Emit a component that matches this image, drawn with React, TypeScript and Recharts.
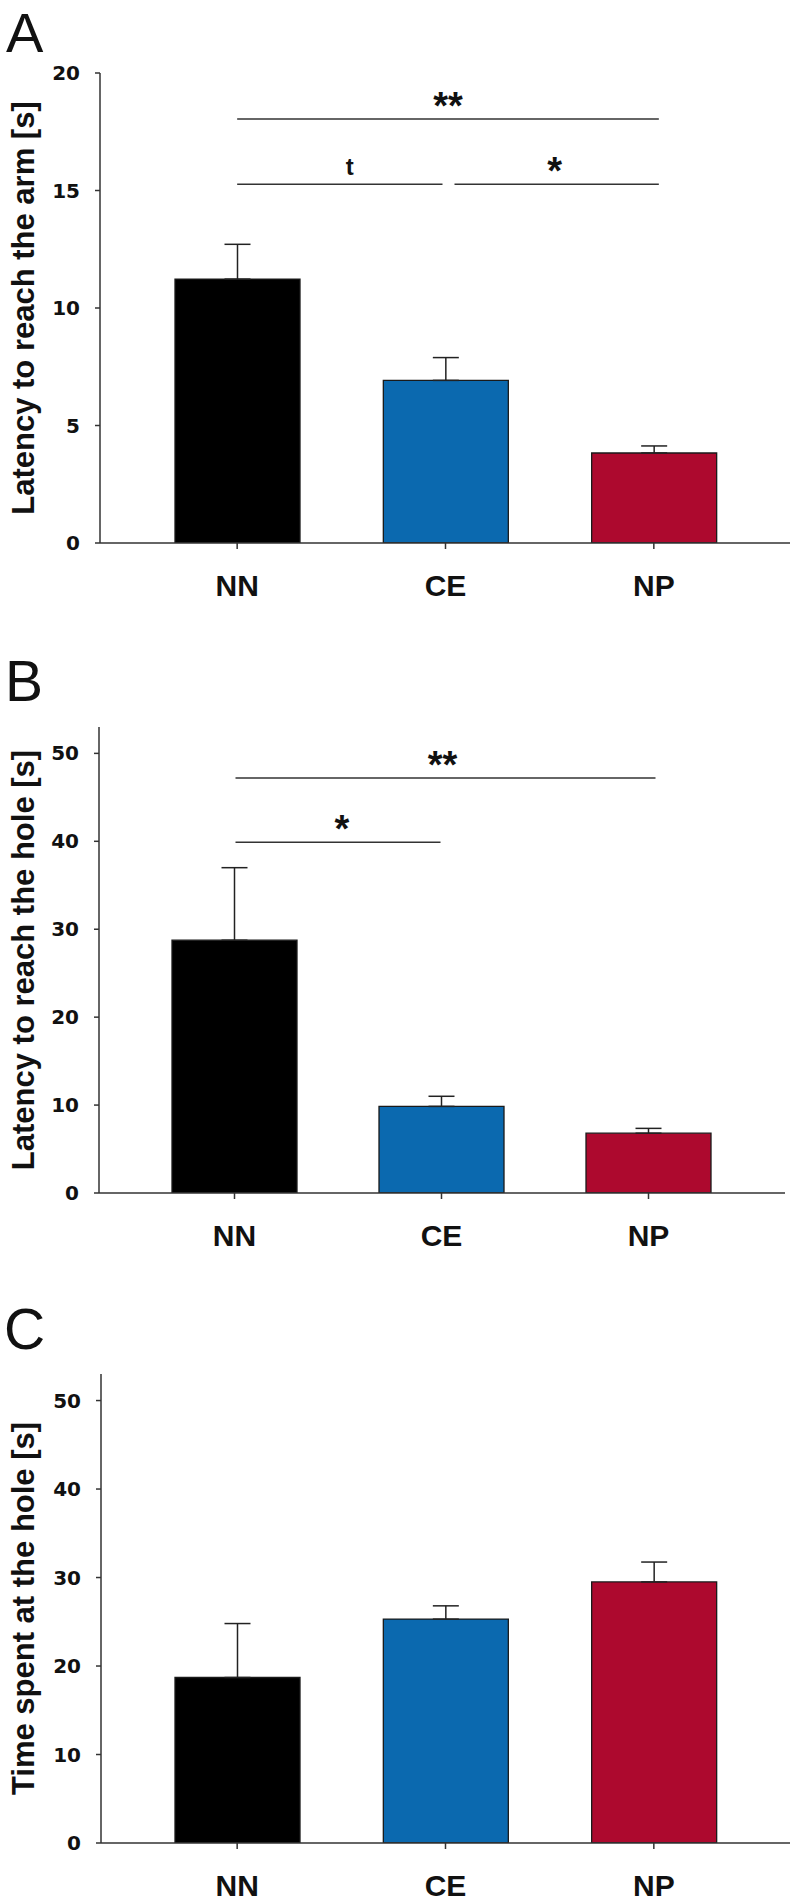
import React from "react";
import { BarChart, Bar, XAxis, YAxis, Cell, ErrorBar, ReferenceLine } from "recharts";

const CATEGORIES = ["NN", "CE", "NP"];
const BAR_COLORS = ["#000000", "#0b69af", "#ad092e"];

// panel A - latency to reach the arm
const ARM_MEAN = [11.23, 6.92, 3.83];
const ARM_SEM = [1.48, 0.97, 0.3];
const ARM_TICKS = [0, 5, 10, 15, 20];

// panel B - latency to reach the hole
const HOLE_MEAN = [28.75, 9.85, 6.8];
const HOLE_SEM = [8.25, 1.15, 0.55];
const HOLE_TICKS = [0, 10, 20, 30, 40, 50];

// panel C - time spent at the hole
const TIME_MEAN = [18.7, 25.3, 29.5];
const TIME_SEM = [6.1, 1.5, 2.25];
const TIME_TICKS = [0, 10, 20, 30, 40, 50];

// significance brackets
const ARM_BRACKETS = [
  { from: "NN", to: "NP", y: 18.04, label: "**" },
  { from: "NN", to: "CE", y: 15.27, label: "t" },
  { from: "CE", to: "NP", y: 15.27, label: "*" },
];
const HOLE_BRACKETS = [
  { from: "NN", to: "NP", y: 47.2, label: "**" },
  { from: "NN", to: "CE", y: 39.9, label: "*" },
];

// small pixel nudges of the bracket ends (left, right) and of the label
const ARM_NUDGE = [[0, 5, 0], [0, -3, 10], [9, 5, -2]];
const HOLE_NUDGE = [[1, 7, -3], [1, -1, 4]];

const SANS = "'Liberation Sans', Arial, sans-serif";
const INK = "#111";
const AXIS = "#333";

function makeRows(mean: number[], sem: number[]) {
  return CATEGORIES.map((name, i) => ({ name, mean: mean[i], err: [0, sem[i]] }));
}

function bracketShape(label: string, nudge: number[]) {
  return (p: any) => {
    const x1 = p.x1 + nudge[0];
    const x2 = p.x2 + nudge[1];
    const mid = (x1 + x2) / 2 + (nudge[2] || 0);
    const isStar = label.indexOf("*") >= 0;
    return (
      <g>
        <line x1={x1} y1={p.y1} x2={x2} y2={p.y2} stroke={AXIS} strokeWidth={1.5} />
        <text
          x={mid}
          y={isStar ? p.y1 : p.y1 - 9}
          textAnchor="middle"
          fontFamily={SANS}
          fontWeight={700}
          fontSize={isStar ? 38 : 24}
          fill={INK}
        >
          {label}
        </text>
      </g>
    );
  };
}

interface PanelProps {
  top: number;
  height: number;
  margin: { top: number; right: number; bottom: number; left: number };
  yWidth: number;
  pad: { left: number; right: number };
  rows: any[];
  domain: number[];
  ticks: number[];
  yLabel: string;
  brackets?: { from: string; to: string; y: number; label: string }[];
  nudges?: number[][];
}

function Panel({ top, height, margin, yWidth, pad, rows, domain, ticks, yLabel, brackets = [], nudges = [] }: PanelProps) {
  const renderYLabel = (props: any) => {
    const vb = props.viewBox;
    const cx = 34;
    const cy = vb.y + vb.height / 2;
    return (
      <text
        x={cx}
        y={cy}
        transform={`rotate(-90, ${cx}, ${cy})`}
        textAnchor="middle"
        fontFamily={SANS}
        fontWeight={700}
        fontSize={31}
        fill={INK}
      >
        {yLabel}
      </text>
    );
  };

  return (
    <div style={{ position: "absolute", left: 0, top, width: 797, height }}>
      <BarChart width={797} height={height} data={rows} margin={margin}>
        <XAxis
          dataKey="name"
          padding={pad}
          axisLine={{ stroke: AXIS, strokeWidth: 1.5 }}
          tickLine={{ stroke: AXIS, strokeWidth: 1.5 }}
          tickSize={6}
          tickMargin={26}
          tick={{ fill: INK, fontSize: 30, fontWeight: 700, fontFamily: SANS }}
        />
        <YAxis
          width={yWidth}
          domain={domain}
          ticks={ticks}
          allowDataOverflow
          axisLine={{ stroke: AXIS, strokeWidth: 1.5 }}
          tickLine={{ stroke: AXIS, strokeWidth: 1.5 }}
          tickSize={5}
          tickMargin={15}
          tick={{ fill: INK, fontSize: 20, fontWeight: 700, fontFamily: "'DejaVu Sans', sans-serif" }}
          label={renderYLabel}
        />
        <Bar dataKey="mean" barSize={125} stroke="#1a1a1a" strokeWidth={1.3} isAnimationActive={false}>
          {rows.map((r, i) => (
            <Cell key={r.name} fill={BAR_COLORS[i]} />
          ))}
          <ErrorBar dataKey="err" direction="y" width={13} stroke="#222" strokeWidth={1.5} />
        </Bar>
        {brackets.map((b, i) => (
          <ReferenceLine
            key={i}
            segment={[
              { x: b.from, y: b.y },
              { x: b.to, y: b.y },
            ]}
            shape={bracketShape(b.label, nudges[i] || [0, 0, 0])}
          />
        ))}
      </BarChart>
    </div>
  );
}

export default function App() {
  return (
    <div style={{ position: "absolute", left: 0, top: 0, width: 797, height: 1902, background: "#fff" }}>
      <Panel
        top={0}
        height={640}
        margin={{ top: 73, right: 7, bottom: 67, left: 0 }}
        yWidth={100}
        pad={{ left: 33, right: 32 }}
        rows={makeRows(ARM_MEAN, ARM_SEM)}
        domain={[0, 20]}
        ticks={ARM_TICKS}
        yLabel="Latency to reach the arm [s]"
        brackets={ARM_BRACKETS}
        nudges={ARM_NUDGE}
      />
      <Panel
        top={640}
        height={620}
        margin={{ top: 87, right: 12, bottom: 37, left: 0 }}
        yWidth={99}
        pad={{ left: 32, right: 33 }}
        rows={makeRows(HOLE_MEAN, HOLE_SEM)}
        domain={[0, 53]}
        ticks={HOLE_TICKS}
        yLabel="Latency to reach the hole [s]"
        brackets={HOLE_BRACKETS}
        nudges={HOLE_NUDGE}
      />
      <Panel
        top={1260}
        height={642}
        margin={{ top: 114, right: 7, bottom: 29, left: 0 }}
        yWidth={101}
        pad={{ left: 32, right: 32 }}
        rows={makeRows(TIME_MEAN, TIME_SEM)}
        domain={[0, 53]}
        ticks={TIME_TICKS}
        yLabel="Time spent at the hole [s]"
      />
      <svg
        width={797}
        height={1902}
        style={{ position: "absolute", left: 0, top: 0, pointerEvents: "none" }}
      >
        <text x={6} y={52} fontFamily={SANS} fontSize={56} fill={INK}>A</text>
        <text x={5} y={701} fontFamily={SANS} fontSize={57} fill={INK}>B</text>
        <text x={4} y={1349} fontFamily={SANS} fontSize={57} fill={INK}>C</text>
      </svg>
    </div>
  );
}
